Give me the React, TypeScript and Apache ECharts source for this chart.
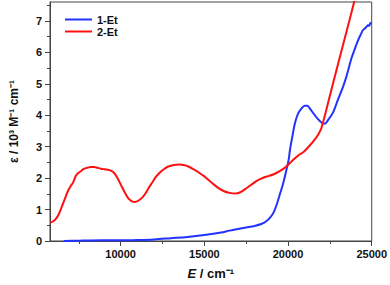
import React, { useEffect, useRef } from "react";
import * as echarts from "echarts";

// E (cm^-1) and ε (10^3 M^-1 cm^-1)
const blueE = [6600, 7500, 9000, 10000, 11000, 12000, 13000, 14000, 15000, 16000, 16500, 17000, 17500, 18000, 18400, 18700, 18950, 19150, 19350, 19550, 19720, 19900, 20050, 20120, 20270, 20420, 20600, 20810, 21000, 21150, 21300, 21500, 21750, 22000, 22200, 22400, 22700, 22950, 23290, 23500, 23790, 24000, 24190, 24350, 24480, 24600, 24700, 24780, 24850, 24920, 25000];
const blueV = [0.0, 0.01, 0.02, 0.02, 0.03, 0.05, 0.09, 0.13, 0.19, 0.27, 0.33, 0.38, 0.43, 0.48, 0.54, 0.63, 0.76, 0.92, 1.2, 1.55, 1.85, 2.25, 2.62, 2.91, 3.35, 3.76, 4.05, 4.22, 4.30, 4.30, 4.22, 4.07, 3.90, 3.77, 3.73, 3.85, 4.1, 4.45, 4.91, 5.25, 5.81, 6.12, 6.39, 6.57, 6.71, 6.76, 6.82, 6.86, 6.84, 6.93, 6.92];

const redE = [5800, 5950, 6130, 6300, 6430, 6580, 6730, 6880, 7020, 7150, 7320, 7470, 7620, 7800, 8020, 8200, 8410, 8600, 8810, 9050, 9300, 9450, 9600, 9750, 9900, 10050, 10200, 10350, 10500, 10680, 10850, 11050, 11290, 11490, 11690, 11890, 12080, 12330, 12580, 12850, 13170, 13500, 13770, 14050, 14370, 14660, 14960, 15250, 15560, 15850, 16150, 16500, 16850, 17150, 17440, 17800, 18130, 18430, 18730, 19030, 19330, 19620, 19920, 20250, 20610, 20910, 21200, 21510, 21800, 22000, 22500, 23000, 23500, 23950, 24100];
const redV = [0.59, 0.62, 0.70, 0.85, 1.01, 1.22, 1.43, 1.62, 1.75, 1.85, 2.07, 2.16, 2.22, 2.29, 2.33, 2.35, 2.35, 2.33, 2.30, 2.28, 2.26, 2.23, 2.17, 2.06, 1.91, 1.75, 1.59, 1.45, 1.33, 1.26, 1.24, 1.28, 1.38, 1.52, 1.70, 1.86, 2.02, 2.17, 2.28, 2.37, 2.42, 2.43, 2.42, 2.37, 2.28, 2.18, 2.07, 1.94, 1.80, 1.68, 1.59, 1.53, 1.51, 1.55, 1.65, 1.79, 1.91, 1.99, 2.05, 2.10, 2.17, 2.26, 2.38, 2.55, 2.72, 2.82, 2.98, 3.17, 3.38, 3.6, 4.62, 5.65, 6.67, 7.6, 7.92];

const seriesNames = ["1-Et", "2-Et"];
const xMajor = [10000, 15000, 20000, 25000];
const xMinor = [7500, 12500, 17500, 22500];
const yMajor = [0, 1, 2, 3, 4, 5, 6, 7];
const yMinor = [0.5, 1.5, 2.5, 3.5, 4.5, 5.5, 6.5, 7.5];

const FONT = "'Liberation Sans', Arial, sans-serif";
const AXIS_COLOR = "#444";

export default function App() {
  const ref = useRef<HTMLDivElement>(null);
  useEffect(() => {
    if (!ref.current) return;
    const chart = echarts.init(ref.current, undefined, { renderer: "svg" });
    const xMin = 5780, xMax = 25000, yMin = 0, yMax = 7.6;
    const baseX = {
      type: "value" as const,
      min: xMin,
      max: xMax,
      splitLine: { show: false },
    };
    const baseY = {
      type: "value" as const,
      min: yMin,
      max: yMax,
      splitLine: { show: false },
    };
    chart.setOption({
      animation: false,
      grid: {
        left: 49,
        right: 18,
        top: 2,
        bottom: 43,
        show: true,
        borderColor: AXIS_COLOR,
        borderWidth: 1,
        backgroundColor: "transparent",
      },
      legend: {
        orient: "vertical",
        left: 65,
        top: 14,
        icon: "rect",
        itemWidth: 27,
        itemHeight: 2,
        itemGap: 1,
        padding: 0,
        data: seriesNames,
        textStyle: { fontFamily: FONT, fontWeight: "bold", fontSize: 11, color: "#111" },
      },
      xAxis: [
        {
          ...baseX,
          name: "{i|E}{a| / cm⁻¹}",
          nameLocation: "middle",
          nameGap: 26,
          nameTextStyle: {
            rich: {
              i: { fontFamily: FONT, fontWeight: "bold", fontStyle: "italic", fontSize: 13, color: "#111" },
              a: { fontFamily: FONT, fontWeight: "bold", fontSize: 13, color: "#111" },
            },
          },
          axisLine: { show: true, lineStyle: { color: AXIS_COLOR, width: 1 } },
          axisTick: { show: true, customValues: xMajor, length: 5, lineStyle: { color: AXIS_COLOR } },
          axisLabel: {
            customValues: xMajor,
            formatter: (v: number) => String(Math.round(v)),
            fontFamily: FONT,
            fontWeight: "bold",
            fontSize: 11,
            color: "#111",
            margin: 7,
          },
        },
        {
          ...baseX,
          axisLine: { show: false },
          axisTick: { show: true, customValues: xMinor, length: 3, lineStyle: { color: AXIS_COLOR } },
          axisLabel: { show: false },
          position: "bottom",
        },
      ],
      yAxis: [
        {
          ...baseY,
          name: "ε / 10³ M⁻¹ cm⁻¹",
          nameLocation: "middle",
          nameGap: 30,
          nameTextStyle: { fontFamily: FONT, fontWeight: "bold", fontSize: 12, color: "#111" },
          axisLine: { show: true, lineStyle: { color: AXIS_COLOR, width: 1 } },
          axisTick: { show: true, customValues: yMajor, length: 5, lineStyle: { color: AXIS_COLOR } },
          axisLabel: {
            customValues: yMajor,
            formatter: (v: number) => String(Math.round(v)),
            fontFamily: FONT,
            fontWeight: "bold",
            fontSize: 11,
            color: "#111",
            margin: 8,
          },
        },
        {
          ...baseY,
          position: "left",
          axisLine: { show: false },
          axisTick: { show: true, customValues: yMinor, length: 3, lineStyle: { color: AXIS_COLOR } },
          axisLabel: { show: false },
        },
      ],
      series: [
        {
          name: seriesNames[0],
          type: "line",
          symbol: "none",
          smooth: 0.3,
          clip: true,
          lineStyle: { color: "#2233ff", width: 2 },
          itemStyle: { color: "#2233ff" },
          data: blueE.map((e, i) => [e, blueV[i]]),
        },
        {
          name: seriesNames[1],
          type: "line",
          symbol: "none",
          smooth: 0.3,
          clip: true,
          lineStyle: { color: "#ff1010", width: 2 },
          itemStyle: { color: "#ff1010" },
          data: redE.map((e, i) => [e, redV[i]]),
        },
      ],
    });
    return () => chart.dispose();
  }, []);
  return <div ref={ref} style={{ width: 390, height: 285, position: "absolute", left: 0, top: 0 }} />;
}
